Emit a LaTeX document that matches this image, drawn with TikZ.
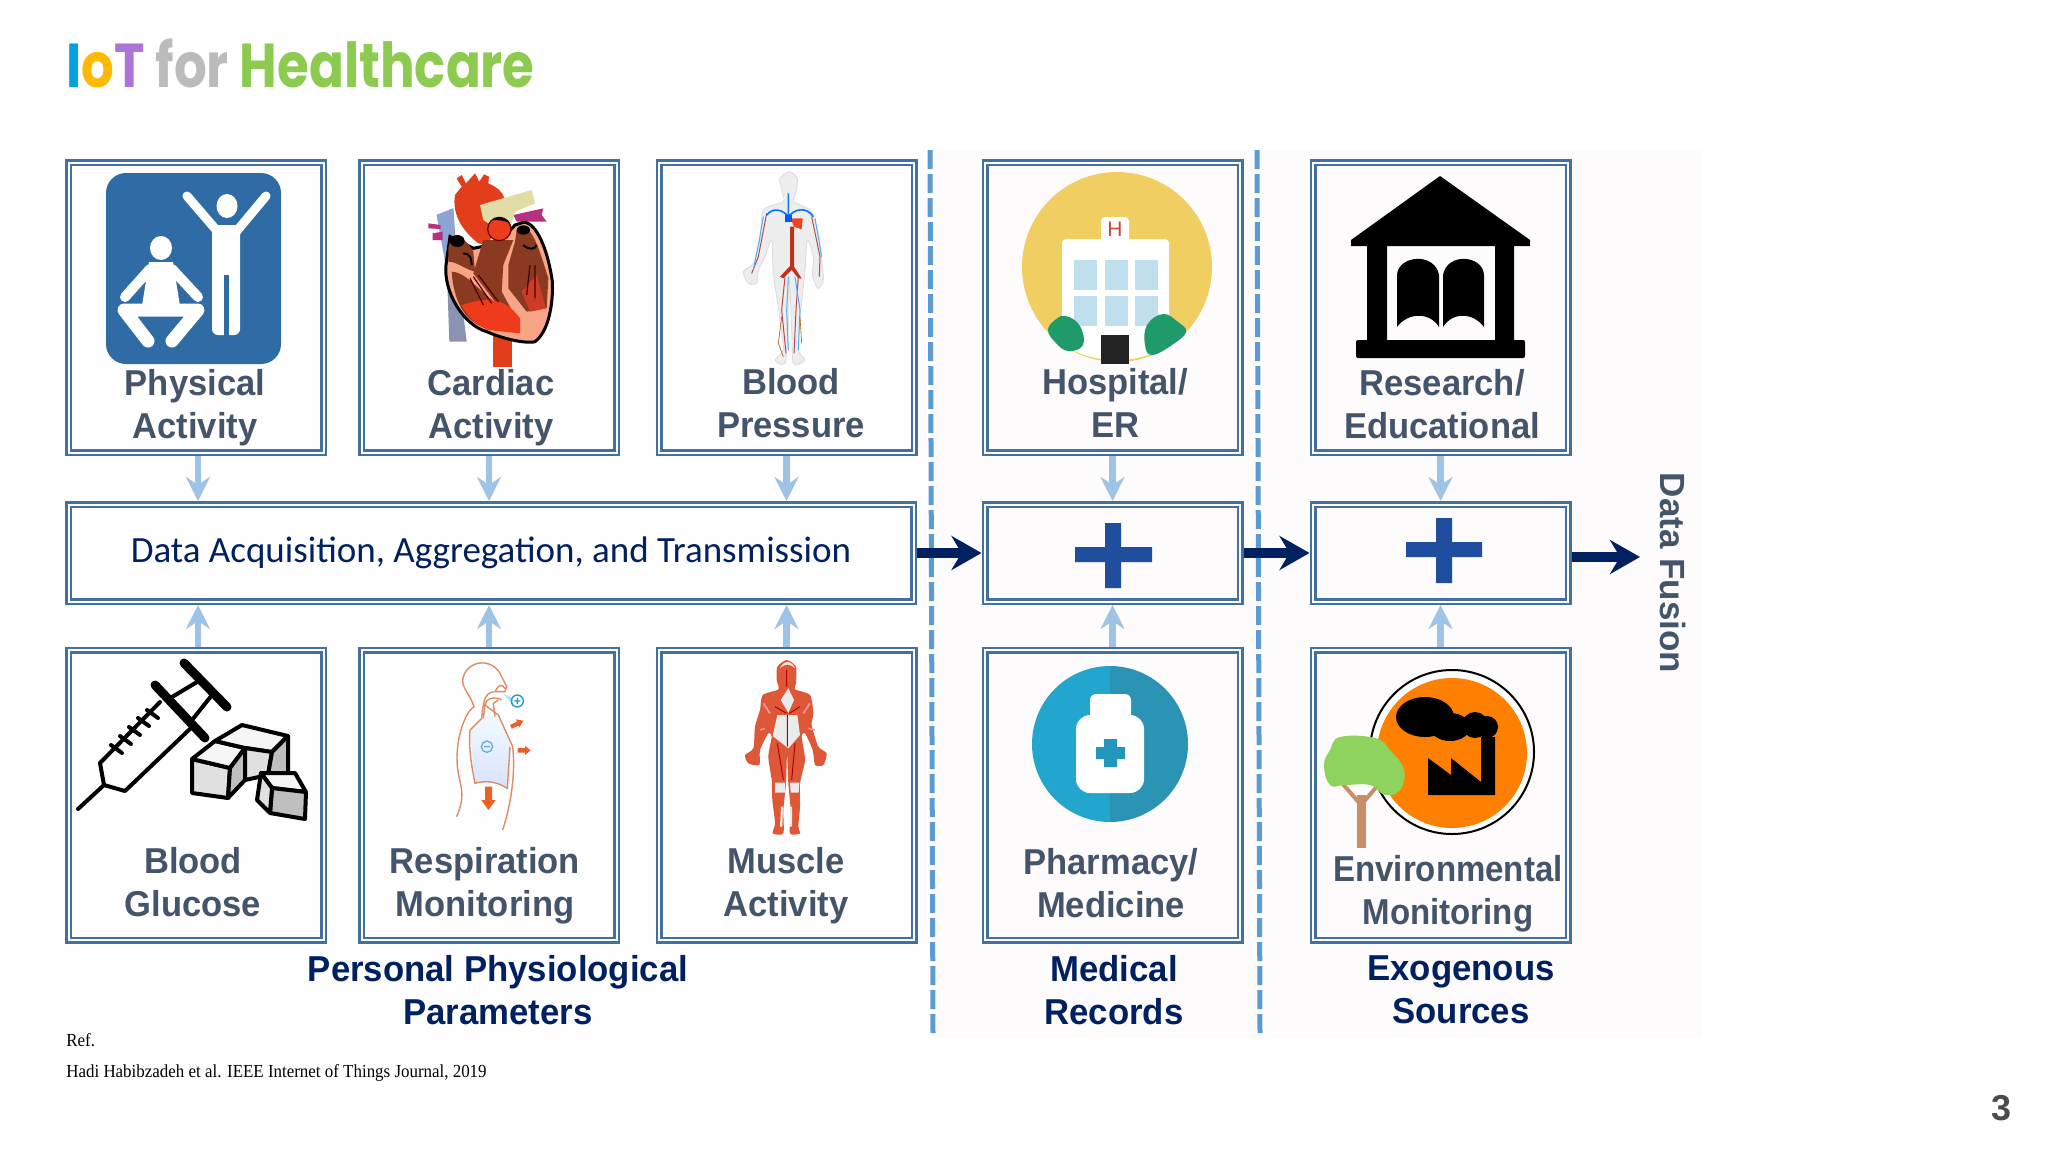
\documentclass[tikz,border=0pt]{standalone}
\usepackage{fontspec}
\usetikzlibrary{arrows.meta}
\setmainfont{Liberation Sans}
\newfontfamily\titlefont{Poppins}
\newfontfamily\dataFont{Carlito}
\newfontfamily\refFont{Liberation Serif}
\definecolor{boxblue}{HTML}{44709F}
\definecolor{lightarrowblue}{HTML}{9DC3E6}
\definecolor{navyblue}{HTML}{002060}
\definecolor{labelgrey}{HTML}{44546A}
\definecolor{dashblue}{HTML}{5B9BD5}
\definecolor{plusblue}{HTML}{1F4E9E}
\definecolor{panelleft}{HTML}{FEFEFF}
\definecolor{panelright}{HTML}{FDFBFC}
\tikzset{
  framebox/.style={draw=boxblue,double=white,double distance=1pt,line width=1.25pt,
    outer sep=1.75pt,inner sep=0pt},
  sensorbox/.style={framebox,minimum width=127.5pt,minimum height=145pt},
  mergebox/.style={framebox,minimum width=127.5pt,minimum height=48.5pt},
  boxlabel/.style={align=center,text=labelgrey,xscale=.96,font=\bfseries\fontsize{18}{21.5}\selectfont},
  grouplabel/.style={align=center,text=navyblue,xscale=.965,font=\bfseries\fontsize{18}{21.5}\selectfont},
  lightarrow/.style={draw=lightarrowblue,line width=3.2pt,-{Stealth[length=12pt,width=12pt,inset=4pt]}},
  darkarrow/.style={draw=navyblue,line width=5pt,-{Stealth[length=15pt,width=17pt,inset=5pt]}},
  divider/.style={draw=dashblue,line width=2.5pt,dash pattern=on 9.5pt off 2.5pt},
  refline/.style={anchor=base west,inner sep=0pt,xscale=.92,font=\refFont\fontsize{9.2}{11}\selectfont},
}
\newcommand{\bodyshape}{plot[smooth cycle,tension=.45] coordinates {(208,35)(232,55)(228,95)(222,125)(270,150)(290,200)(300,250)(305,300)(310,360)(295,385)(278,350)(280,290)(262,240)(255,330)(248,400)(240,470)(235,570)(255,600)(220,610)(215,500)(208,360)(205,500)(195,610)(165,600)(190,570)(180,480)(160,340)(155,240)(135,290)(115,330)(110,370)(85,370)(70,335)(100,310)(120,240)(130,150)(190,125)(185,90)(180,55)}}
\begin{document}
\begin{tikzpicture}[x=.5pt,y=-.5pt]
  \useasboundingbox (0,0) rectangle (2048,1152);
  % pale panels behind the diagram
  \fill[panelleft] (59,150) rectangle (932,1038);
  \fill[panelright] (932,150) rectangle (1701,1038);
  % title
  \node[anchor=base west,inner sep=0pt,xscale=.83,font=\titlefont\bfseries\fontsize{31}{33}\selectfont] (title) at (66,87)
    {\textcolor[HTML]{00A3E0}{I}\textcolor[HTML]{FFB900}{o}\textcolor[HTML]{AB74D6}{T} \textcolor[HTML]{BBBBBB}{for} \textcolor[HTML]{8CCB50}{Healthcare}};
  % dashed dividers
  \coordinate (divA) at (930,150);
  \coordinate (divAend) at (933,1036);
  \coordinate (divB) at (1257,150);
  \coordinate (divBend) at (1260,1036);
  \draw[divider] (divA) -- (divAend);
  \draw[divider] (divB) -- (divBend);
  % boxes
  \draw
    (196,307.5) node[sensorbox] (physical) {}
    (489,307.5) node[sensorbox] (cardiac) {}
    (786.5,307.5) node[sensorbox] (pressure) {}
    (1112.5,307.5) node[sensorbox] (hospital) {}
    (1440.5,307.5) node[sensorbox] (research) {}
    (196,795) node[sensorbox] (glucose) {}
    (489,795) node[sensorbox] (respiration) {}
    (786.5,795) node[sensorbox] (muscle) {}
    (1112.5,795) node[sensorbox] (pharmacy) {}
    (1440.5,795) node[sensorbox] (environment) {}
    (491,553) node[framebox,minimum width=422.5pt,minimum height=48.5pt,text=navyblue,font=\dataFont\fontsize{18.5}{20}\selectfont] (data) {Data Acquisition, Aggregation, and Transmission}
    (1112.5,553) node[mergebox] (mergeA) {}
    (1440.5,553) node[mergebox] (mergeB) {};
  % connectors
  \begin{scope}[lightarrow]
    \draw ([xshift=1pt]physical.south) to ([xshift=1pt]physical.south |- data.north);
    \draw (cardiac.south) to (cardiac.south |- data.north);
    \draw (pressure.south) to (pressure.south |- data.north);
    \draw (hospital.south) to (mergeA.north);
    \draw (research.south) to (mergeB.north);
    \draw ([xshift=1pt]glucose.north) to ([xshift=1pt]glucose.north |- data.south);
    \draw (respiration.north) to (respiration.north |- data.south);
    \draw (muscle.north) to (muscle.north |- data.south);
    \draw (pharmacy.north) to (mergeA.south);
    \draw (environment.north) to (mergeB.south);
  \end{scope}
  \coordinate (fusionEnd) at (1640,557);
  \begin{scope}[darkarrow]
    \draw (data.east) to (mergeA.west);
    \draw (mergeA.east) to (mergeB.west);
    \draw (mergeB.east |- fusionEnd) to (fusionEnd);
  \end{scope}
  % plus signs
  \fill[plusblue] (1075,547) rectangle (1152,562) (1105,523) rectangle (1121,588);
  \fill[plusblue] (1406,542) rectangle (1482,557) (1436,518) rectangle (1452,583);
  % labels
  \draw
    (195,408) node[boxlabel] (physicalText) {Physical\\Activity}
    (491,408) node[boxlabel] (cardiacText) {Cardiac\\Activity}
    (791,403) node[boxlabel] (pressureText) {Blood\\Pressure}
    (1115,403) node[boxlabel] (hospitalText) {Hospital/\\ER}
    (1442,404) node[boxlabel] (researchText) {Research/\\Educational}
    (193,882) node[boxlabel] (glucoseText) {Blood\\Glucose}
    (485,886) node[boxlabel] (respirationText) {Respiration\\Monitoring}
    (786,886) node[boxlabel] (muscleText) {Muscle\\Activity}
    (1111,883) node[boxlabel] (pharmacyText) {Pharmacy/\\Medicine}
    (1448,894) node[boxlabel,xscale=.955] (environmentText) {Environmental\\Monitoring}
    (498,990) node[grouplabel] (personalGroup) {Personal Physiological\\Parameters}
    (1114,990) node[grouplabel] (medicalGroup) {Medical\\Records}
    (1461,990) node[grouplabel] (exogenousGroup) {Exogenous\\Sources}
    (1673,573) node[rotate=-90,text=labelgrey,font=\bfseries\fontsize{17.5}{20}\selectfont] (fusionText) {Data Fusion}
    (2001,1108) node[text=black!70,font=\bfseries\fontsize{18}{20}\selectfont] (pageNumber) {3};
  \node[refline] (refHead) at (66,1046) {Ref.};
  \node[refline] (refText) at (66,1077) {Hadi Habibzadeh et al. IEEE Internet of Things Journal, 2019};
  % physical activity icon
  \fill[fill={rgb,255:red,47;green,108;blue,166},rounded corners=10pt] (106,173) rectangle (281,364);
  \begin{scope}[white,line cap=round,line join=round]
    \fill (227,206) ellipse [x radius=10.5,y radius=12];
    \draw[line width=4.5pt] (187,196) -- (218,232) -- (236,232) -- (266,196);
    \fill[rounded corners=3pt] (212,225) rectangle (240,335);
    \fill[fill={rgb,255:red,47;green,108;blue,166}] (224,275) rectangle (229,340);
    \fill (161,248) ellipse [x radius=11,y radius=12];
    \draw[line width=5pt] (150,269) -- (125,297) (172,269) -- (198,297);
    \fill (149,262) -- (173,262) -- (180,306) -- (142,306) -- cycle;
    \draw[line width=6.5pt] (148,341) -- (124,310) -- (198,310) -- (172,341);
  \end{scope}
  % heart icon
  \begin{scope}[shift={(420,165)},scale=1/3]
    \fill[fill={rgb,255:red,140;green,146;blue,178}] (50,150) -- (100,130) -- (112,300) -- (140,530) -- (88,530) -- (80,300) -- cycle;
    \fill[fill={rgb,255:red,140;green,165;blue,215}] (50,150) -- (100,130) -- (105,260) -- (75,290) -- cycle;
    \fill[fill={rgb,255:red,184;green,48;blue,130}] (25,175) -- (62,180) -- (62,192) -- (25,190) -- cycle (38,205) -- (68,200) -- (68,225) -- (38,225) -- cycle;
    \fill[fill={rgb,255:red,184;green,48;blue,130}] (280,150) -- (370,130) -- (365,150) -- (380,170) -- (290,170) -- cycle;
    \fill[fill={rgb,255:red,226;green,62;blue,28}] (220,510) rectangle (275,605);
    \fill[fill={rgb,255:red,226;green,62;blue,28}] (110,40) -- (125,30) -- (138,55) -- (165,25) -- (178,50) -- (192,28) -- (207,35) -- (205,55) .. controls (240,70) and (255,90) .. (255,115) -- (205,240) -- (175,235) .. controls (130,200) and (95,150) .. (105,90) -- (125,65) -- cycle;
    \fill[fill={rgb,255:red,248;green,165;blue,135},draw=black,line width=1.5pt] (90,215) -- (78,300) .. controls (70,380) and (130,480) .. (200,500) .. controls (270,530) and (330,535) .. (345,530) .. controls (385,500) and (400,420) .. (397,350) .. controls (385,260) and (350,170) .. (310,172) -- (285,180) -- (235,235) -- (160,250) -- cycle;
    \fill[fill={rgb,255:red,139;green,58;blue,34}] (85,250) .. controls (90,205) and (130,205) .. (160,260) -- (165,320) .. controls (130,310) and (110,290) .. (85,290) -- cycle;
    \fill[fill={rgb,255:red,139;green,58;blue,34}] (95,320) .. controls (120,320) and (150,345) .. (165,360) -- (290,470) -- (300,490) -- (200,490) .. controls (130,470) and (100,400) .. (95,320) -- cycle;
    \fill[fill={rgb,255:red,139;green,58;blue,34}] (190,225) -- (280,225) -- (250,300) -- (245,380) -- (300,480) -- (240,430) -- (160,325) -- cycle;
    \fill[fill={rgb,255:red,240;green,58;blue,28}] (125,420) .. controls (190,400) and (250,390) .. (300,460) -- (300,505) -- (205,495) .. controls (165,480) and (140,450) .. (125,420) -- cycle;
    \fill[fill={rgb,255:red,139;green,58;blue,34}] (290,195) .. controls (330,175) and (345,210) .. (385,340) -- (380,430) -- (320,440) -- (265,370) -- (265,300) -- (285,230) -- cycle;
    \fill[fill={rgb,255:red,205;green,60;blue,35}] (305,380) -- (350,330) -- (378,430) -- (330,440) -- cycle;
    \fill[black] (112,228) ellipse [x radius=22,y radius=18] (310,195) ellipse [x radius=20,y radius=14];
    \draw[black!70!red,line width=.6pt] (150,340) -- (190,420) (160,335) -- (215,415) (175,330) -- (235,410) (330,300) -- (320,390) (345,300) -- (345,400);
    \draw[black,line width=1pt] (130,265) .. controls (150,265) and (155,280) .. (155,300) (310,240) .. controls (325,255) and (345,255) .. (350,240);
    \fill[fill={rgb,255:red,225;green,220;blue,165}] (180,120) -- (335,75) -- (345,115) -- (285,140) -- (275,175) -- (205,175) -- (190,165) -- cycle;
    \fill[fill={rgb,255:red,235;green,60;blue,30},draw=black!60!red,line width=.6pt] (238,192) circle [radius=35];
    \fill[black] (215,165) .. controls (235,150) and (255,155) .. (270,175) .. controls (250,165) and (235,165) .. (215,165) -- cycle;
  \end{scope}
  % circulatory icon
  \begin{scope}[shift={(720,160)},scale=1/3]
    \fill[fill=black!7,draw=black!14,line width=.4pt] \bodyshape;
    \draw[red!55!black!70,line width=.5pt] (140,160) -- (115,290) -- (95,340) (275,170) -- (300,290) -- (298,350) (195,350) -- (185,450) -- (198,580) (235,350) -- (228,450) -- (222,580);
    \draw[blue!45!cyan!70,line width=.5pt] (130,170) -- (118,240) -- (100,330) (285,175) -- (305,290) (205,350) -- (200,450) -- (205,570) (225,350) -- (240,450) -- (235,570);
    \draw[orange!70!black,line width=.3pt] (185,470) -- (175,550) -- (190,590) (240,470) -- (245,550);
    \draw[blue!55!cyan,line width=.8pt] (140,165) .. controls (160,140) and (190,150) .. (205,170) .. controls (225,145) and (260,140) .. (280,170) (205,100) -- (205,175);
    \fill[fill={rgb,255:red,235;green,70;blue,30}] (212,175) -- (248,175) -- (245,208) -- (222,200) -- cycle;
    \fill[blue!65!cyan] (195,165) rectangle (215,185);
    \fill[fill={rgb,255:red,190;green,50;blue,30}] (210,200) -- (222,200) -- (222,320) -- (245,355) -- (235,355) -- (215,330) -- (190,355) -- (180,350) -- (210,318) -- cycle;
  \end{scope}
  % blood glucose icon
  \begin{scope}[black,line width=2pt,line join=round,line cap=round]
    \draw (78,809) -- (104,785);
    \draw (100,763) -- (104,785) -- (125,791) -- (192,727) (100,763) -- (160,702);
    \draw[line width=2pt] (111,745) -- (122,753) (120,736) -- (131,744) (129,727) -- (140,735) (138,718) -- (149,726) (147,710) -- (158,718);
    \draw[line width=4.5pt] (155,685) -- (205,738);
    \draw[line width=2pt] (172,697) -- (197,682) (192,720) -- (212,695);
    \draw[line width=4.5pt] (184,663) -- (227,707);
    \draw[fill=black!12] (192,759) -- (230,768) -- (228,798) -- (192,793) -- cycle;
    \draw[fill=black!4] (192,759) -- (215,741) -- (245,748) -- (230,768) -- cycle;
    \draw[fill=black!25] (230,768) -- (245,748) -- (245,780) -- (228,798) -- cycle;
    \draw[fill=black!4] (215,741) -- (242,725) -- (288,736) -- (272,752) -- (245,748) -- cycle;
    \draw[fill=black!12] (245,748) -- (272,752) -- (268,775) -- (245,780) -- cycle;
    \draw[fill=black!25] (272,752) -- (288,736) -- (288,775) -- (268,775) -- cycle;
    \draw[fill=black!4] (261,773) -- (295,773) -- (306,792) -- (272,788) -- cycle;
    \draw[fill=black!25] (272,788) -- (306,792) -- (305,819) -- (270,813) -- cycle;
    \draw[fill=black!12] (261,773) -- (272,788) -- (270,813) -- (257,800) -- cycle;
  \end{scope}
  % respiration icon
  \begin{scope}[shift={(430,650)},scale=1/3]
    \shade[top color=cyan!4,bottom color=cyan!25!blue!15] (120,240) -- (155,205) -- (160,150) -- (210,150) -- (205,190) -- (240,280) -- (232,415) -- (195,395) -- (135,400) -- cycle;
    \fill[fill=white] (165,155) -- (215,140) -- (210,160) -- (180,170) -- (180,190) -- (165,190) -- cycle;
    \fill[cyan!30] (218,130) -- (250,145) -- (250,165) -- cycle;
    \begin{scope}[draw={rgb,255:red,222;green,140;blue,100},line width=.7pt]
      \draw (80,500) .. controls (105,440) and (95,420) .. (85,370) .. controls (70,290) and (100,190) .. (132,170) .. controls (120,130) and (90,110) .. (100,80) .. controls (115,30) and (190,20) .. (215,80) -- (230,110) -- (225,125) -- (195,125) .. controls (205,105) and (215,100) .. (225,115) (190,125) .. controls (165,130) and (160,150) .. (155,205) -- (120,240) .. controls (115,290) and (125,350) .. (135,400) .. controls (170,390) and (200,395) .. (232,415) -- (240,290) (215,150) .. controls (190,135) and (165,150) .. (165,165) -- (205,195) -- (248,290) .. controls (255,350) and (250,440) .. (218,540);
      \draw (165,165) -- (160,205) (205,150) -- (190,160) -- (195,200);
    \end{scope}
    \draw[draw=cyan!60!teal,line width=.7pt] (262,153) circle [radius=18] (253,153) -- (271,153) (262,144) -- (262,162);
    \draw[draw=cyan!50!teal!70,line width=.7pt] (171,290) circle [radius=17] (162,290) -- (180,290);
    \begin{scope}[fill={rgb,255:red,232;green,98;blue,40}]
      \fill (165,410) rectangle (186,450) (154,450) -- (197,450) -- (175,480) -- cycle;
      \fill (263,294) rectangle (285,308) (285,287) -- (302,301) -- (285,315) -- cycle;
      \fill (240,225) -- (262,214) -- (268,226) -- (245,236) -- cycle (258,208) -- (280,212) -- (268,232) -- cycle;
    \end{scope}
  \end{scope}
  % muscle icon
  \begin{scope}[shift={(720,650)},scale=1/3]
    \fill[fill={rgb,255:red,222;green,88;blue,56}] plot[smooth cycle,tension=.4] coordinates {(200,30)(228,50)(228,100)(225,118)(270,135)(280,190)(275,225)(295,290)(320,310)(310,345)(285,345)(278,300)(255,250)(245,260)(255,330)(240,400)(240,470)(235,530)(240,550)(210,550)(212,480)(205,400)(201,310)(198,400)(190,480)(190,550)(158,550)(165,520)(157,450)(155,390)(145,320)(155,260)(145,250)(120,300)(118,345)(85,340)(75,315)(100,295)(105,230)(120,180)(128,135)(175,118)(170,90)(172,50)};
    \fill[black!8] (205,115) -- (222,150) -- (205,188) -- (182,150) -- cycle;
    \fill[black!8] (172,195) -- (232,195) -- (240,255) -- (205,295) -- (158,258) -- cycle;
    \fill[black!8] (165,398) -- (195,398) -- (195,428) -- (165,428) -- cycle (210,398) -- (238,398) -- (236,428) -- (212,428) -- cycle;
    \fill[black!8] (183,470) -- (189,470) -- (187,530) -- (180,530) -- cycle (211,470) -- (216,470) -- (216,530) -- (210,530) -- cycle;
    \fill[black!8] (180,55) .. controls (190,30) and (215,30) .. (225,55) .. controls (210,40) and (195,40) .. (180,55) -- cycle;
    \draw[black!30!red,line width=.5pt] (200,60) -- (200,110) (202,195) -- (202,290) (172,280) -- (190,390) (225,280) -- (215,390) (165,170) -- (200,190) (240,170) -- (208,190);
    \draw[red!40,line width=.8pt] (130,160) -- (150,190) (270,160) -- (250,190) (120,240) -- (135,235) (265,235) -- (285,240);
  \end{scope}
  % hospital icon
  \fill[fill={rgb,255:red,240;green,206;blue,98}] (1117,267) circle [radius=95];
  \fill[fill=white,rounded corners=2pt] (1062,239) rectangle (1169,350);
  \fill[fill=white] (1065,345) .. controls (1090,365) and (1145,365) .. (1165,345) -- cycle;
  \fill[fill=white,rounded corners=2pt] (1101,217) rectangle (1129,242);
  \node[text={rgb,255:red,205;green,70;blue,60},inner sep=0pt,font=\fontsize{10.5}{11}\selectfont] (hospitalSign) at (1115,229) {H};
  \foreach \colx in {1074,1105,1135}
    \foreach \rowy in {260,296}
      \fill[fill={rgb,255:red,191;green,223;blue,238}] (\colx,\rowy) rectangle (\colx+23,\rowy+30);
  \fill[fill={rgb,255:red,35;green,35;blue,35}] (1101,335) rectangle (1129,364);
  \fill[fill={rgb,255:red,31;green,154;blue,105}] plot[smooth cycle,tension=.7] coordinates {(1066,316)(1080,326)(1083,345)(1068,351)(1055,342)(1048,330)(1055,320)};
  \fill[fill={rgb,255:red,31;green,154;blue,105}] plot[smooth cycle,tension=.7] coordinates {(1163,314)(1178,322)(1186,332)(1172,345)(1152,355)(1145,345)(1147,325)};
  % library icon
  \fill[black] (1440,176) -- (1530,240) -- (1530,246) -- (1351,246) -- (1351,240) -- cycle;
  \fill[black] (1367,245) rectangle (1387,342) (1495,245) rectangle (1514,342);
  \fill[black,rounded corners=1pt] (1356,340) rectangle (1525,358);
  \fill[black] (1397,327) -- (1397,275) .. controls (1398,255) and (1435,252) .. (1439,275) -- (1439,327) .. controls (1430,312) and (1408,312) .. (1397,327) -- cycle;
  \fill[black] (1484,327) -- (1484,275) .. controls (1483,255) and (1447,252) .. (1443,275) -- (1443,327) .. controls (1452,312) and (1473,312) .. (1484,327) -- cycle;
  % pharmacy icon
  \fill[fill={rgb,255:red,35;green,166;blue,206}] (1110,666) arc (-90:-270:78) -- cycle;
  \fill[fill={rgb,255:red,43;green,147;blue,180}] (1110,666) arc (-90:90:78) -- cycle;
  \fill[white,rounded corners=3pt] (1090,694) rectangle (1131,720);
  \fill[white,rounded corners=7pt] (1076,715) rectangle (1144,793);
  \fill[fill={rgb,255:red,35;green,150;blue,190}] (1096,747) rectangle (1125,759) (1104,739) rectangle (1117,767);
  % environment icon
  \fill[white,draw=black,line width=1pt] (1452,752) circle [radius=82];
  \fill[fill={rgb,255:red,255;green,128;blue,0}] (1452,753) circle [radius=75];
  \fill[black] (1425,717) ellipse [x radius=29,y radius=20] (1450,727) ellipse [x radius=20,y radius=14] (1475,725) ellipse [x radius=13,y radius=13] (1487,727) ellipse [x radius=11,y radius=11];
  \fill[black] (1428,758) -- (1451,775) -- (1451,758) -- (1481,782) -- (1481,737) -- (1495,737) -- (1495,795) -- (1428,795) -- cycle;
  \fill[fill={rgb,255:red,200;green,142;blue,103}] (1357,795) rectangle (1366,848);
  \draw[draw={rgb,255:red,200;green,142;blue,103},line width=2pt] (1361,805) -- (1342,783) (1361,805) -- (1378,785);
  \fill[fill={rgb,255:red,143;green,211;blue,95}] plot[smooth cycle,tension=.7] coordinates {(1340,737)(1375,738)(1390,750)(1404,770)(1400,790)(1385,795)(1370,785)(1345,785)(1330,785)(1324,765)(1330,750)};
\end{tikzpicture}
\end{document}
